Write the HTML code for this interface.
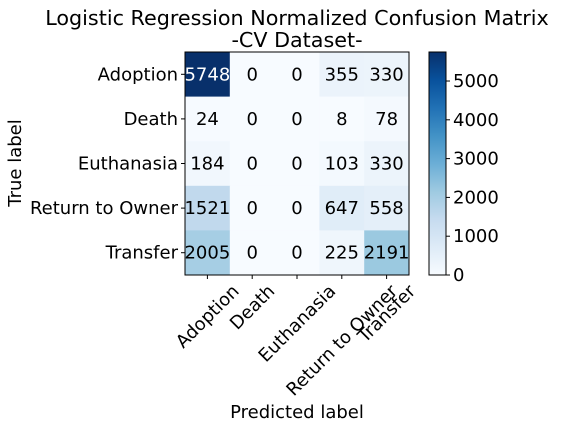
<!DOCTYPE html>
<html><head><meta charset="utf-8"><style>
body{margin:0;background:#fff}
svg text{font-family:"DejaVu Sans","Liberation Sans",sans-serif;fill:#000}
</style></head><body>
<svg id="c" width="568" height="429">
<defs><linearGradient id="g" x1="0" y1="1" x2="0" y2="0">
<stop offset="0" stop-color="#f7fbff"/><stop offset="0.125" stop-color="#deebf7"/><stop offset="0.25" stop-color="#c6dbef"/><stop offset="0.375" stop-color="#9ecae1"/><stop offset="0.5" stop-color="#6baed6"/><stop offset="0.625" stop-color="#4292c6"/><stop offset="0.75" stop-color="#2171b5"/><stop offset="0.875" stop-color="#08519c"/><stop offset="1" stop-color="#08306b"/>
</linearGradient></defs>
<text x="297" y="25" font-size="20.7" text-anchor="middle">Logistic Regression Normalized Confusion Matrix</text>
<text x="297" y="47" font-size="20.7" text-anchor="middle">-CV Dataset-</text>
<text x="297" y="418" font-size="18" text-anchor="middle">Predicted label</text>
<text transform="translate(21,163) rotate(-90)" font-size="18" text-anchor="middle">True label</text>
<rect x="429" y="52" width="17" height="223" fill="url(#g)" stroke="#000" stroke-width="1"/>
</svg>
<script>
const categories=["Adoption","Death","Euthanasia","Return to Owner","Transfer"];
const row0=[5748,0,0,355,330];
const row1=[24,0,0,8,78];
const row2=[184,0,0,103,330];
const row3=[1521,0,0,647,558];
const row4=[2005,0,0,225,2191];
const cbTicks=[0,1000,2000,3000,4000,5000];
const rows=[row0,row1,row2,row3,row4];
const L=185,T=52,W=224,H=223,n=categories.length,cw=W/n,ch=H/n;
const vmax=Math.max(...rows.flat());
const stops=["#f7fbff","#deebf7","#c6dbef","#9ecae1","#6baed6","#4292c6","#2171b5","#08519c","#08306b"].map(h=>[1,3,5].map(i=>parseInt(h.substr(i,2),16)));
function color(v){let t=v/vmax*8;let i=Math.min(7,Math.floor(t)),f=t-i;let a=stops[i],b=stops[i+1];return "rgb("+a.map((x,k)=>Math.round(x+(b[k]-x)*f)).join(",")+")";}
const NS="http://www.w3.org/2000/svg",svg=document.getElementById("c");
function el(tag,at,txt){const e=document.createElementNS(NS,tag);for(const k in at)e.setAttribute(k,at[k]);if(txt!==undefined)e.textContent=txt;svg.appendChild(e);return e;}
rows.forEach((r,i)=>r.forEach((v,j)=>{
 const c=el("rect",{x:L+j*cw,y:T+i*ch,width:cw+0.5,height:ch+0.5,fill:color(v)});
 
 
 const t=el("text",{x:L+(j+0.5)*cw,y:T+(i+0.5)*ch+6,"font-size":18,"text-anchor":"middle",style:"fill:"+(v>vmax/2?"#fff":"#000")},v);
 
 
}));
const fr=el("rect",{x:L,y:T,width:W,height:H,fill:"none",stroke:"#000","stroke-width":1});


categories.forEach((c,i)=>{
 const y=T+(i+0.5)*ch;
 el("line",{x1:L-4,x2:L,y1:y,y2:y,stroke:"#000"});
 const yl=el("text",{x:L-7,y:y+6,"font-size":18,"text-anchor":"end"},c);
 
 
 const x=L+(i+0.5)*cw;
 el("line",{x1:x,x2:x,y1:T+H,y2:T+H+4,stroke:"#000"});
 const xl=el("text",{"font-size":18,"text-anchor":"middle"},c);
 
 
 const w=xl.getComputedTextLength(),h=14;
 const cy=T+H+8+(w+h)*0.7071/2;
 xl.setAttribute("transform","translate("+x+","+cy+") rotate(-45)");
 xl.setAttribute("y",6);
});
cbTicks.forEach(v=>{
 const y=275-v/vmax*223;
 el("line",{x1:446,x2:450,y1:y,y2:y,stroke:"#000"});
 const t=el("text",{x:453,y:y+6,"font-size":18},v);
 
 
});
</script>
</body></html>
